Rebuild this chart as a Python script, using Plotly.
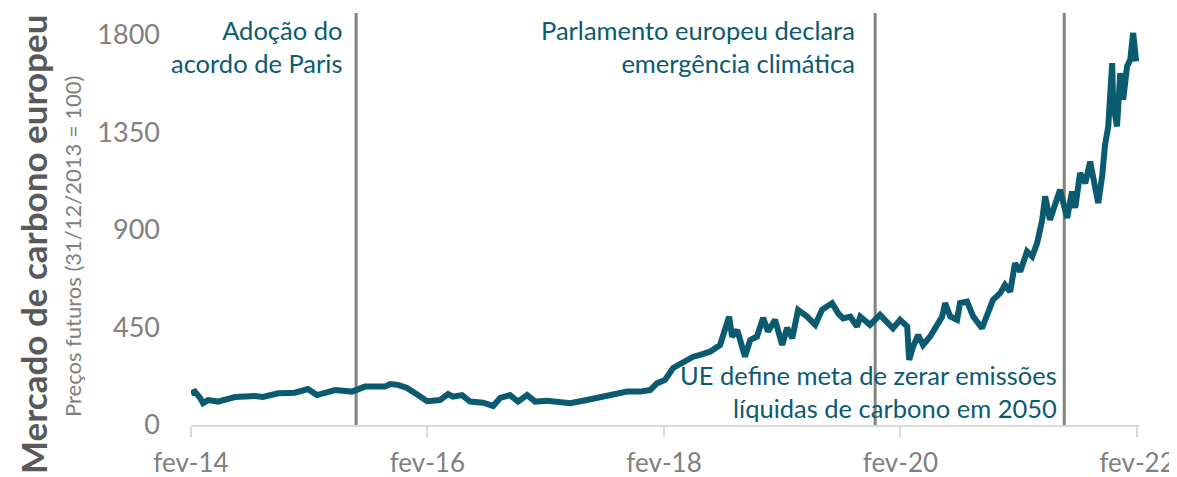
import plotly.graph_objects as go

# ---- data ----
dates = [
    "2014-02-01", "2014-02-13", "2014-03-01", "2014-03-10", "2014-03-26", "2014-04-25",
    "2014-06-17", "2014-08-18", "2014-09-11", "2014-10-28", "2014-12-19", "2015-01-28",
    "2015-02-25", "2015-04-22", "2015-06-13", "2015-07-23", "2015-09-23", "2015-10-09",
    "2015-11-02", "2015-11-30", "2016-01-03", "2016-01-31", "2016-03-11", "2016-04-05",
    "2016-04-20", "2016-05-18", "2016-06-12", "2016-07-22", "2016-08-22", "2016-09-13",
    "2016-10-13", "2016-11-07", "2016-12-05", "2016-12-30", "2017-02-05", "2017-03-17",
    "2017-04-17", "2017-06-08", "2017-07-18", "2017-08-28", "2017-10-10", "2017-11-19",
    "2017-12-20", "2018-01-10", "2018-02-04", "2018-03-01", "2018-03-29", "2018-05-02",
    "2018-05-23", "2018-06-23", "2018-07-24", "2018-08-09", "2018-08-21", "2018-08-30",
    "2018-09-15", "2018-10-09", "2018-10-25", "2018-11-15", "2018-12-04", "2018-12-19",
    "2019-01-10", "2019-02-01", "2019-02-16", "2019-03-04", "2019-03-22", "2019-04-19",
    "2019-05-14", "2019-06-04", "2019-07-05", "2019-07-24", "2019-08-08", "2019-08-30",
    "2019-09-20", "2019-09-30", "2019-10-30", "2019-11-30", "2019-12-22", "2020-01-09",
    "2020-01-31", "2020-02-22", "2020-02-28", "2020-03-11", "2020-03-27", "2020-04-11",
    "2020-05-03", "2020-05-24", "2020-06-09", "2020-06-18", "2020-07-04", "2020-07-25",
    "2020-08-03", "2020-08-25", "2020-09-13", "2020-10-10", "2020-10-26", "2020-11-13",
    "2020-12-05", "2020-12-20", "2021-01-05", "2021-01-20", "2021-02-05", "2021-02-26",
    "2021-03-14", "2021-03-29", "2021-04-14", "2021-04-23", "2021-05-08", "2021-05-24",
    "2021-06-08", "2021-06-30", "2021-07-15", "2021-07-25", "2021-08-09", "2021-08-25",
    "2021-09-09", "2021-09-18", "2021-10-04", "2021-10-16", "2021-10-25", "2021-11-04",
    "2021-11-10", "2021-11-16", "2021-11-19", "2021-12-01", "2021-12-11", "2021-12-20",
    "2022-01-01", "2022-01-11", "2022-01-20", "2022-01-26", "2022-01-29",
]
values = [
    146, 154, 125, 101, 115, 108,
    129, 134, 129, 146, 149, 166,
    138, 161, 154, 177, 177, 189,
    185, 171, 138, 110, 115, 143,
    131, 138, 108, 103, 88, 125,
    138, 108, 138, 108, 112, 103,
    100, 115, 129, 146, 154, 154,
    161, 192, 208, 263, 286, 315,
    323, 338, 369, 438, 500, 408,
    438, 315, 392, 408, 494, 431,
    485, 369, 448, 401, 531, 500,
    462, 531, 562, 515, 492, 500,
    454, 500, 462, 508, 469, 446,
    485, 454, 300, 361, 415, 369,
    408, 454, 500, 562, 500, 485,
    562, 569, 500, 446, 500, 577,
    608, 646, 615, 746, 708, 800,
    777, 838, 946, 1054, 946, 1008,
    1085, 955, 1077, 1001, 1162, 1115,
    1215, 1146, 1023, 1146, 1292, 1377,
    1500, 1669, 1485, 1377, 1623, 1500,
    1654, 1685, 1808, 1715, 1677,
]

event_dates = ["2015-06-26", "2019-11-15", "2021-06-21"]
event_labels = [
    "Adoção do<br>acordo de Paris",
    "Parlamento europeu declara<br>emergência climática",
    "UE define meta de zerar emissões<br>líquidas de carbono em 2050",
]
event_label_y = [1.0, 1.0, 0.0]
event_label_anchor = ["top", "top", "bottom"]
event_label_shift = [-12, -18, -5]

tick_dates = ["2014-02-01", "2016-02-01", "2018-02-01", "2020-02-01", "2022-02-01"]
tick_text = ["fev-14", "fev-16", "fev-18", "fev-20", "fev-22"]
y_ticks = [0, 450, 900, 1350, 1800]

TEAL = "#0a5a70"
GRAY_LINE = "#86827c"
FONT = "Lato"

fig = go.Figure()
fig.add_trace(go.Scatter(
    x=dates, y=values, mode="lines",
    line=dict(color=TEAL, width=6),
    hoverinfo="skip", showlegend=False,
))

for d in event_dates:
    fig.add_shape(type="line", xref="x", yref="paper", x0=d, x1=d, y0=0, y1=1,
                  line=dict(color=GRAY_LINE, width=3), layer="below")

for d, lab, yy, ya, sh in zip(event_dates, event_labels, event_label_y,
                              event_label_anchor, event_label_shift):
    fig.add_annotation(x=d, y=yy, xref="x", yref="paper", text=lab, showarrow=False,
                       xanchor="right", yanchor=ya, align="right", xshift=sh,
                       font=dict(family=FONT, size=25.5, color=TEAL))

fig.add_annotation(text="<b>Mercado de carbono europeu</b>", xref="paper", yref="paper",
                   x=0, y=0.437, xshift=-158, xanchor="center", yanchor="middle",
                   textangle=-90, showarrow=False,
                   font=dict(family=FONT, size=35, color="#595959"))
fig.add_annotation(text="Preços futuros (31/12/2013 = 100)", xref="paper", yref="paper",
                   x=0, y=0.432, xshift=-119, xanchor="center", yanchor="middle",
                   textangle=-90, showarrow=False,
                   font=dict(family=FONT, size=22, color="#7f7f7f"))

fig.update_layout(
    width=1169, height=469,
    margin=dict(l=183, r=37, t=5, b=52, autoexpand=False),
    paper_bgcolor="white", plot_bgcolor="white",
    font=dict(family=FONT, color="#808080"),
    xaxis=dict(
        type="date", range=["2014-02-01", "2022-02-10"],
        tickvals=tick_dates, ticktext=tick_text,
        showgrid=False, zeroline=False, automargin=False,
        showline=True, linecolor="#d9d9d9", linewidth=2,
        ticks="outside", ticklen=10, tickcolor="#d9d9d9", tickwidth=2,
        tickfont=dict(family=FONT, size=26, color="#808080"),
        ticklabelstandoff=4,
    ),
    yaxis=dict(
        range=[0, 1900], tickvals=y_ticks, automargin=False,
        showgrid=False, zeroline=False, showline=False,
        tickfont=dict(family=FONT, size=27, color="#808080"),
        ticklabelstandoff=30,
    ),
)

fig.write_html("out.html")
